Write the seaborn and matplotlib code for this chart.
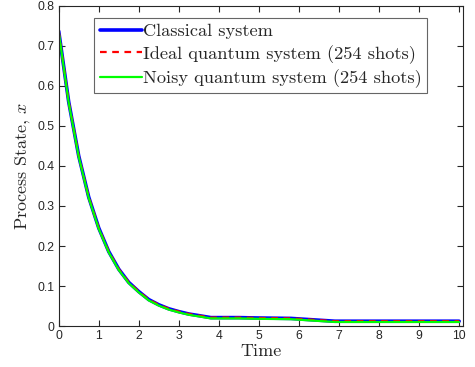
import numpy as np
import pandas as pd
import seaborn as sns
import matplotlib.pyplot as plt

# values
time = [0, 0.25, 0.5, 0.75, 1.0, 1.25, 1.5, 1.75, 2.0, 2.25, 2.5, 2.75, 3.0,
        3.25, 3.5, 3.8, 4.5, 5.0, 5.8, 6.9, 8.0, 9.0, 10.0]
classical = [0.737, 0.560, 0.425, 0.322, 0.245, 0.186, 0.142, 0.109, 0.086, 0.066,
             0.053, 0.043, 0.036, 0.030, 0.026, 0.021, 0.021, 0.020, 0.019, 0.012,
             0.012, 0.012, 0.012]
ideal = [0.737, 0.560, 0.425, 0.322, 0.245, 0.186, 0.142, 0.109, 0.086, 0.066,
         0.053, 0.043, 0.036, 0.030, 0.026, 0.021, 0.021, 0.020, 0.019, 0.012,
         0.012, 0.012, 0.012]
noisy = [0.735, 0.558, 0.423, 0.320, 0.243, 0.184, 0.140, 0.107, 0.084, 0.064,
         0.051, 0.041, 0.034, 0.028, 0.024, 0.019, 0.019, 0.018, 0.017, 0.010,
         0.010, 0.010, 0.010]
labels = ['Classical system', 'Ideal quantum system (254 shots)',
          'Noisy quantum system (254 shots)']

sns.set_style('ticks')
plt.rcParams['font.family'] = ['Liberation Sans', 'DejaVu Sans']
plt.rcParams['mathtext.fontset'] = 'cm'

fig = plt.figure(figsize=(4.75, 3.67), dpi=100)
ax = fig.add_axes([0.1236, 0.1117, 0.8514, 0.872])

df = pd.DataFrame({'t': time, 'c': classical, 'i': ideal, 'n': noisy})
sns.lineplot(data=df, x='t', y='c', ax=ax, color='#0000ff', lw=2.6, label=labels[0])
sns.lineplot(data=df, x='t', y='i', ax=ax, color='#ff0000', lw=1.6,
             linestyle=(0, (3, 2.5)), label=labels[1])
sns.lineplot(data=df, x='t', y='n', ax=ax, color='#00ff00', lw=1.6, label=labels[2])

ax.set_xlim(0, 10.1)
ax.set_ylim(0, 0.8)
ax.set_xticks(range(0, 11))
ax.set_yticks(np.arange(0, 0.81, 0.1))
ax.set_yticklabels(['0', '0.1', '0.2', '0.3', '0.4', '0.5', '0.6', '0.7', '0.8'])

serif = {'family': 'cmr10', 'size': 13}
ax.set_xlabel('Time', fontdict=serif, labelpad=1)
ax.set_ylabel('Process State, $x$', fontdict=serif, labelpad=4)

ax.tick_params(direction='in', length=4, width=0.8, top=True, right=True,
               labelsize=8.8, colors='#262626', pad=3)
for s in ax.spines.values():
    s.set_visible(True)
    s.set_color('#262626')
    s.set_linewidth(0.8)

leg = ax.legend(loc='upper left', bbox_to_anchor=(0.088, 0.962),
                prop={'family': 'cmr10', 'size': 13.2}, frameon=True,
                fancybox=False, edgecolor='#404040', handlelength=2.3,
                handletextpad=0.05, borderaxespad=0, borderpad=0.3,
                labelspacing=0.3)
leg.get_frame().set_linewidth(0.8)

fig.savefig('out.png', dpi=100)
